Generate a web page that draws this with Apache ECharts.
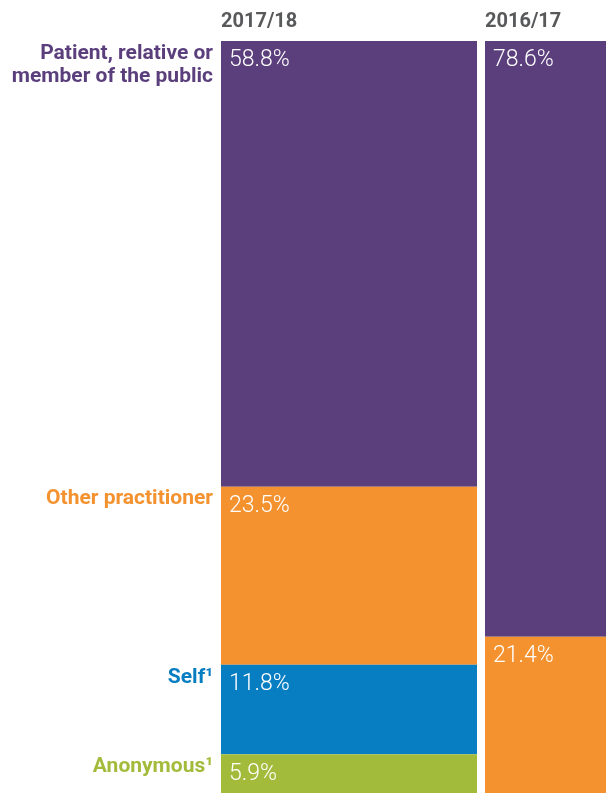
<!DOCTYPE html>
<html>
<head>
<meta charset="utf-8">
<script src="https://cdn.jsdelivr.net/npm/echarts@6/dist/echarts.min.js"></script>
<style>
html,body{margin:0;padding:0;background:#fff;}
#c{width:606px;height:793px;}
</style>
</head>
<body>
<div id="c"></div>
<script>
const years = ['2017/18', '2016/17'];
const sourceNames = ['Patient, relative or\nmember of the public', 'Other practitioner', 'Self¹', 'Anonymous¹'];
const patient = [58.8, 78.6];
const otherPractitioner = [23.5, 21.4];
const self = [11.8, null];
const anonymous = [5.9, null];
const colors = ['#5B3F7D', '#F3922E', '#087EC2', '#A3BB3A'];

const seriesValues = [patient, otherPractitioner, self, anonymous];
const font = 'Roboto';
const series = [];
seriesValues.forEach((vals, i) => {
  series.push({
    name: sourceNames[i],
    type: 'bar',
    stack: 'main',
    barWidth: 256,
    barGap: '-100%',
    data: vals,
    itemStyle: { color: colors[i] },
    label: {
      show: true,
      position: 'insideTopLeft',
      distance: 8,
      formatter: p => p.value == null ? '' : p.value.toFixed(1) + '%',
      color: '#fff',
      fontFamily: font,
      fontWeight: 300,
      fontSize: 23
    },
    z: 2
  });
});
seriesValues.forEach((vals, i) => {
  series.push({
    name: 'lbl' + i,
    type: 'bar',
    stack: 'names',
    barWidth: 256,
    barGap: '-100%',
    data: vals.map((v, j) => j === 0 ? v : null),
    itemStyle: { color: 'rgba(0,0,0,0)' },
    silent: true,
    label: {
      show: true,
      position: [-8, 1],
      align: 'right',
      verticalAlign: 'top',
      formatter: () => sourceNames[i],
      color: colors[i],
      fontFamily: font,
      fontWeight: 700,
      fontSize: 21,
      lineHeight: 23
    },
    z: 1
  });
});

const chart = echarts.init(document.getElementById('c'), null, { renderer: 'canvas' });
chart.setOption({
  animation: false,
  backgroundColor: '#fff',
  grid: { left: 217, top: 41, width: 528, height: 758, containLabel: false, outerBoundsMode: 'none' },
  xAxis: {
    type: 'category',
    data: years,
    position: 'top',
    axisLine: { show: false },
    axisTick: { show: false },
    axisLabel: {
      margin: 9,
      formatter: v => '{a|' + v + '}',
      rich: { a: { width: 256, align: 'left', color: '#58595B', fontFamily: font, fontWeight: 700, fontSize: 20 } }
    }
  },
  yAxis: { type: 'value', min: 0, max: 100, inverse: true, show: false },
  series: series
});
</script>
</body>
</html>
